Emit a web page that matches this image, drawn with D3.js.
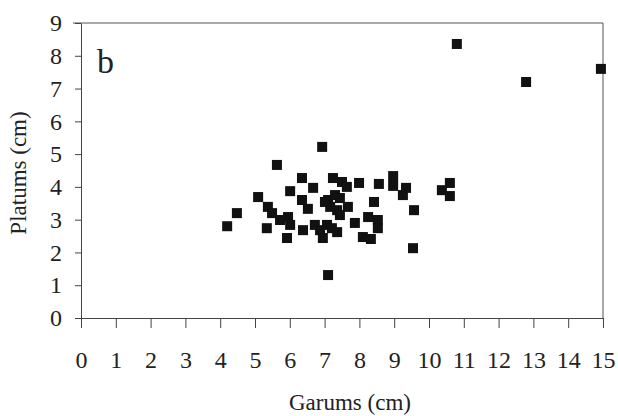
<!DOCTYPE html>
<html>
<head>
<meta charset="utf-8">
<script src="https://d3js.org/d3.v7.min.js"></script>
<style>
body { margin: 0; background: #fff; }
svg { display: block; }
text { font-family: 'Liberation Serif', 'Times New Roman', serif; fill: #222; }
</style>
</head>
<body>
<svg></svg>
<script>
// Garums (x) and Platums (y), cm
var garums = [4.20, 4.48, 5.09, 5.63, 5.34, 5.37, 5.49, 5.72, 5.95, 6.01, 5.92, 6.01, 6.35, 6.35, 6.67,
  6.52, 6.38, 6.72, 6.87, 6.95, 6.93, 7.10, 7.24, 7.50, 7.64, 7.99, 7.10, 7.30, 7.44, 7.16,
  7.36, 7.67, 7.44, 7.07, 7.21, 7.36, 7.87, 8.10, 8.33, 8.25, 8.53, 8.53, 8.42, 8.56, 8.97,
  8.97, 9.34, 9.25, 9.57, 9.54, 10.37, 10.60, 10.60, 10.80, 12.79, 14.94, 7.01];
var platums = [2.80, 3.20, 3.69, 4.67, 2.74, 3.39, 3.20, 2.99, 3.08, 2.84, 2.44, 3.87, 4.27, 3.60, 3.97,
  3.33, 2.68, 2.84, 2.68, 2.44, 5.22, 1.31, 4.27, 4.15, 4.00, 4.12, 3.60, 3.75, 3.66, 3.39,
  3.29, 3.39, 3.14, 2.84, 2.74, 2.62, 2.90, 2.47, 2.41, 3.08, 2.99, 2.74, 3.54, 4.09, 4.33,
  4.03, 3.97, 3.75, 3.29, 2.13, 3.90, 4.12, 3.72, 8.36, 7.20, 7.60, 3.54];
var xTicks = d3.range(0, 16);
var yTicks = d3.range(0, 10);

var width = 618, height = 416;
var svg = d3.select("svg").attr("width", width).attr("height", height);

var x = d3.scaleLinear().domain([0, 15]).range([81, 603]);
var y = d3.scaleLinear().domain([0, 9]).range([318, 23]);

// frame: top and right lines
svg.append("line").attr("x1", 73).attr("x2", x(15)).attr("y1", y(9)).attr("y2", y(9))
  .attr("stroke", "#555").attr("stroke-width", 1);
svg.append("line").attr("x1", x(15)).attr("x2", x(15)).attr("y1", y(9)).attr("y2", y(0))
  .attr("stroke", "#555").attr("stroke-width", 1);

var xAxis = svg.append("g").attr("transform", "translate(0," + y(0) + ")")
  .call(d3.axisBottom(x).tickValues(xTicks).tickSize(10).tickPadding(23).tickSizeOuter(0));
var yAxis = svg.append("g").attr("transform", "translate(" + x(0) + ",0)")
  .call(d3.axisLeft(y).tickValues(yTicks).tickSize(6).tickPadding(13).tickSizeOuter(0));

[xAxis, yAxis].forEach(function (g) {
  g.attr("font-family", null).attr("font-size", null);
  g.select(".domain").attr("stroke", "#444");
  g.selectAll(".tick line").attr("stroke", "#444");
  g.selectAll(".tick text").style("font-family", "'Liberation Serif', serif")
    .style("font-size", "24px").attr("fill", "#222");
});

// points
var size = 10;
svg.selectAll("rect.pt").data(garums).enter().append("rect").attr("class", "pt")
  .attr("x", function (d) { return x(d) - size / 2; })
  .attr("y", function (d, i) { return y(platums[i]) - size / 2; })
  .attr("width", size).attr("height", size)
  .attr("fill", "#111");

// labels
svg.append("text").attr("x", 97).attr("y", 73).style("font-size", "34px").text("b");
svg.append("text").attr("x", 350).attr("y", 410).attr("text-anchor", "middle")
  .style("font-size", "23px").text("Garums (cm)");
svg.append("text").attr("transform", "translate(26,173) rotate(-90)").attr("text-anchor", "middle")
  .style("font-size", "23px").text("Platums (cm)");
</script>
</body>
</html>
